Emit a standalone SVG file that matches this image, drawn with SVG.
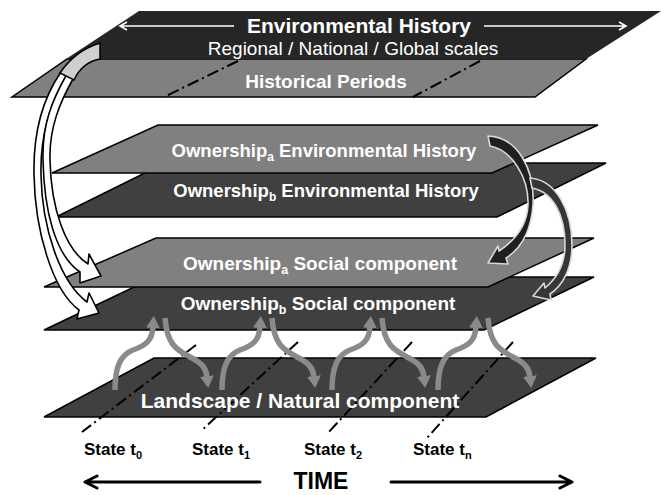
<svg xmlns="http://www.w3.org/2000/svg" width="661" height="495" viewBox="0 0 661 495">
  <style>
    .pl { stroke: #000; stroke-width: 1.5; stroke-linejoin: miter; }
    .lt { fill: #808080; }
    .dk { fill: #404040; }
    .t { font-family: "Liberation Sans", Arial, sans-serif; font-weight: bold; fill: #fff; text-anchor: middle; }
    .reg { font-weight: normal; }
    .st { font-family: "Liberation Sans", Arial, sans-serif; font-weight: bold; fill: #000; font-size: 17px; }
    .dd { stroke: #000; stroke-width: 2; stroke-dasharray: 12 4 2 4; fill: none; }
    .ga { stroke: #8a8a8a; stroke-width: 5.5; fill: none; marker-end: url(#gh); }
    .wa { fill: #fff; stroke: #000; stroke-width: 1.6; stroke-linejoin: round; }
    .ba { stroke: #d8d8d8; stroke-width: 1.6; stroke-linejoin: round; }
    .ta { stroke: #000; stroke-width: 3; fill: none; stroke-linecap: round; stroke-linejoin: round; }
  </style>
  <defs>
    <marker id="gh" viewBox="0 0 12 14" refX="1" refY="7" markerWidth="12" markerHeight="14" markerUnits="userSpaceOnUse" orient="auto">
      <path d="M0,0 L12,7 L0,14 Z" fill="#8a8a8a"/>
    </marker>
  </defs>

  <!-- Historical periods layer (drawn first, partly under the top layer) -->
  <g id="historical-periods">
    <polygon class="pl lt" points="67,59 586,59 535,97 12,97"/>
    <path class="dd" d="M238,61 L164,97 M480,61 L413,97"/>
    <text class="t" x="326" y="88" font-size="19">Historical Periods</text>
  </g>

  <!-- Environmental history layer -->
  <g id="environmental-history">
    <polygon points="139,11 661,11 586,59 66,59" fill="#262626"/>
    <path d="M234,26 H120 M127,22 L120,26 L127,30 M484,26 H626 M619,22 L626,26 L619,30" stroke="#fff" stroke-width="1.6" fill="none"/>
    <text class="t" x="359" y="33" font-size="21">Environmental History</text>
    <text class="t reg" x="353" y="55" font-size="19">Regional / National / Global scales</text>
  </g>

  <g id="ownership-b-history">
    <polygon class="pl dk" points="165,163 606,163 497,217 56,217"/>
    <text class="t" x="326" y="197" font-size="18.5">Ownership<tspan font-size="12" dy="4">b</tspan><tspan dy="-4"> Environmental History</tspan></text>
  </g>

  <g id="ownership-a-history">
    <polygon class="pl lt" points="158,125 598,125 492,173 52,173"/>
    <text class="t" x="324" y="157" font-size="18.5">Ownership<tspan font-size="12" dy="4">a</tspan><tspan dy="-4"> Environmental History</tspan></text>
  </g>

  <g id="ownership-b-social">
    <polygon class="pl dk" points="155,277 594,277 484,330 44,330"/>
    <text class="t" x="318" y="310" font-size="19">Ownership<tspan font-size="12.5" dy="4">b</tspan><tspan dy="-4"> Social component</tspan></text>
  </g>

  <g id="ownership-a-social">
    <polygon class="pl lt" points="156,238 594,238 488,287 44,287"/>
    <text class="t" x="320" y="270" font-size="19">Ownership<tspan font-size="12.5" dy="4">a</tspan><tspan dy="-4"> Social component</tspan></text>
  </g>

  <g id="landscape">
    <polygon class="pl dk" points="154,358 596,358 486,417 44,417"/>
  </g>

  <!-- time slices -->
  <g id="time-slices">
    <path class="dd" d="M196,345 L82,432 M298,342 L202,430 M412,342 L327,434 M513,342 L427,438"/>
  </g>

  <g id="landscape-label">
    <text class="t" x="300" y="408" font-size="21">Landscape / Natural component</text>
  </g>

  <!-- connectors -->
  <g id="connectors">
    <!-- social / landscape exchanges -->
    <g id="exchanges">
      <path class="ga" d="M115,390 C115,368 120,355 133,350 C147,345 152,340 153,327"/>
      <path class="ga" d="M165,318 C167,345 177,350 190,357 C202,363 206,368 207,377"/>
      <path class="ga" d="M222,390 C222,368 227,355 240,350 C254,345 259,340 260,327"/>
      <path class="ga" d="M272,318 C274,345 284,350 297,357 C309,363 313,368 314,377"/>
      <path class="ga" d="M332,390 C332,368 337,355 350,350 C364,345 369,340 370,327"/>
      <path class="ga" d="M382,318 C384,345 394,350 407,357 C419,363 423,368 424,377"/>
      <path class="ga" d="M438,390 C438,368 443,355 456,350 C470,345 475,340 476,327"/>
      <path class="ga" d="M488,318 C490,345 500,350 513,357 C525,363 529,368 530,377"/>
    </g>
    <!-- regional history feeding the social layers -->
    <path id="to-social-b" class="wa" d="M61,72 C43,98 33,130 34,175 C35,230 52,290 79,310 L77,319 L99,313 L89,293 L87,302 C60,282 42,228 41,175 C40,132 52,100 67,77 Z"/>
    <path id="to-social-a" class="wa" d="M67,74 C52,100 42,125 43,160 C44,210 55,255 80,272 L80,283 L101,276 L89,254 L88,264 C66,250 51,210 50,160 C49,128 60,102 73,79 Z"/>
    <path id="ribbon" d="M60,73 C70,58 84,48 100,43 L100,59 C89,61 80,67 74,80 Z" fill="#cfcfcf" stroke="#000" stroke-width="1.5"/>
    <!-- ownership histories feeding the social layers -->
    <path id="hist-a-to-social-a" class="ba" fill="#1f1f1f" d="M488,136 C518,137 535,170 533,205 C531,232 520,249 506,258 L508,264 L488,263 L498,246 L499,251 C511,243 527,228 528,205 C529,178 512,150 490,146 Z"/>
    <path id="hist-b-to-social-b" class="ba" fill="#363636" d="M530,178 C556,180 572,210 572,245 C572,270 562,286 550,294 L551,300 L533,296 L544,283 L545,288 C556,279 565,265 565,245 C565,215 553,192 532,188 Z"/>
  </g>

  <!-- state labels and time axis -->
  <g id="states">
    <text class="st" x="84" y="455">State t<tspan font-size="11" dy="4">0</tspan></text>
    <text class="st" x="192" y="455">State t<tspan font-size="11" dy="4">1</tspan></text>
    <text class="st" x="304" y="455">State t<tspan font-size="11" dy="4">2</tspan></text>
    <text class="st" x="413" y="455">State t<tspan font-size="11" dy="4">n</tspan></text>
  </g>
  <g id="time-axis">
    <path class="ta" d="M260,482 H85 M97,476 L85,482 L97,488 M391,482 H572 M560,476 L572,482 L560,488"/>
    <text x="321" y="489" font-family="'Liberation Sans', Arial, sans-serif" font-weight="bold" font-size="23" text-anchor="middle" fill="#000">TIME</text>
  </g>
</svg>
